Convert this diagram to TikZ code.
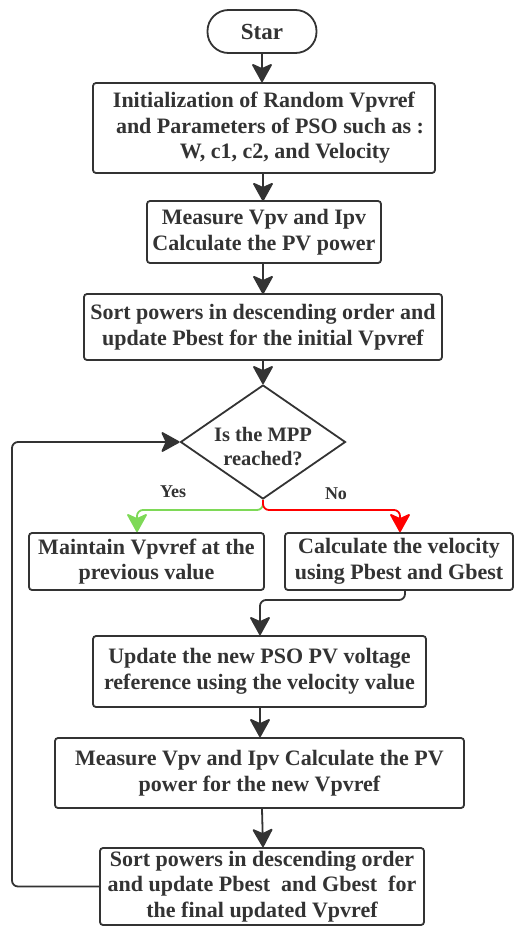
\documentclass[tikz,border=0pt]{standalone}
\usepackage{fontspec}
\setmainfont{Liberation Serif}
\usetikzlibrary{arrows.meta,shapes.geometric,calc}
\definecolor{ink}{HTML}{333333}
\definecolor{yesgreen}{HTML}{7ED957}
\definecolor{nored}{HTML}{FF0000}
\begin{document}
\begin{tikzpicture}[x=1pt,y=-1pt,
  every node/.style={font=\fontsize{22}{25.5}\selectfont\bfseries, text=ink},
  box/.style={draw=ink, line width=1.8pt, rounded corners=3pt, align=center, inner sep=0pt},
  term/.style={draw=ink, line width=1.8pt, rounded corners=21pt, inner sep=0pt, minimum width=109pt, minimum height=43pt, font=\fontsize{23}{26}\selectfont\bfseries},
  decision/.style={draw=ink, line width=1.8pt, diamond, inner sep=0pt, minimum width=165pt, minimum height=114pt},
  flow/.style={draw=ink, line width=1.8pt, rounded corners=6pt, -{Stealth[length=20pt,width=22pt,inset=5pt,round]}},
  lbl/.style={font=\fontsize{18}{20}\selectfont\bfseries}
]
\useasboundingbox (0,0) rectangle (514,927);

\node[term] (start) at (262,31.5) {Star};
\node[box, minimum width=342pt, minimum height=90pt] (init) at (264,128)
  {Initialization of Random Vpvref\\
   \hspace*{12pt}and Parameters of PSO such as :\\
   \hspace*{42pt}W, c1, c2, and Velocity};
\node[box, minimum width=234pt, minimum height=62pt] (meas) at (264,232)
  {Measure Vpv and Ipv\\Calculate the PV power};
\node[box, minimum width=358pt, minimum height=66pt] (sort1) at (263,327)
  {Sort powers in descending order and\\update Pbest for the initial Vpvref};
\node[decision] (dec) at (263,442) {};
\node[align=center, font=\fontsize{20.5}{24}\selectfont\bfseries] (dectext) at (263,447) {Is the MPP\\reached?};
\node[box, minimum width=235pt, minimum height=57pt] (maint) at (146.5,561.5)
  {Maintain Vpvref at the\\previous value};
\node[box, minimum width=228pt, minimum height=57pt] (calc) at (399,561.5)
  {Calculate the velocity\\using Pbest and Gbest};
\node[box, minimum width=333pt, minimum height=71pt] (upd) at (259.5,671.5)
  {Update the new PSO PV voltage\\reference using the velocity value};
\node[box, minimum width=409pt, minimum height=70pt] (meas2) at (259.5,773)
  {Measure Vpv and Ipv Calculate the PV\\power for the new Vpvref};
\node[box, minimum width=324pt, minimum height=77pt] (sort2) at (262,886.5)
  {Sort powers in descending order\\and update Pbest\ \ and Gbest\ \ for\\the final updated Vpvref};

\node[lbl] (yes) at (173,492) {Yes};
\node[lbl] (no) at (336,494) {No};

\coordinate (split) at (263,510);
\coordinate (calcturn) at (405,600);

\draw[flow] (start.south) -- (start.south |- init.north);
\draw[flow] (263,173) -- (263,201);
\draw[flow] (263,263) -- (263,294);
\draw[flow] (sort1.south) -- (dec.north);
\draw[flow, draw=yesgreen] (dec.south) -- (split) -| (maint.north -| 137,0);
\draw[flow, draw=nored] (dec.south) -- (split) -| (calc.north -| 400,0);
\draw[flow] (calc.south -| calcturn) -- (calcturn) -| (upd.north -| 260,0);
\draw[flow] (upd.south -| 260,0) -- (meas2.north -| 260,0);
\draw[flow] (meas2.south -| 262,0) -- (sort2.north -| 263,0);
\draw[flow] (sort2.west) -- (12,886.5) -- (12,442) -- (dec.west);
\end{tikzpicture}
\end{document}
